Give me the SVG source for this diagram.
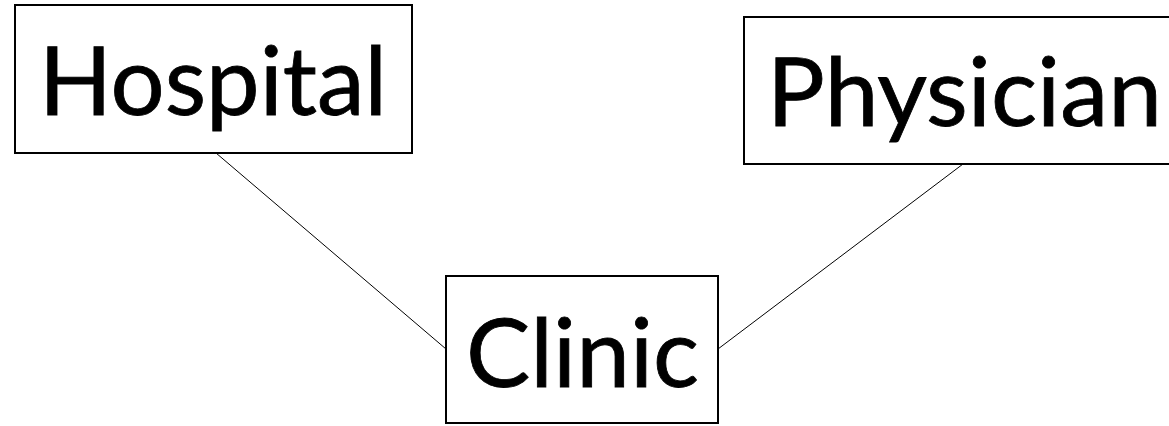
<svg xmlns="http://www.w3.org/2000/svg" width="1169" height="426" viewBox="0 0 1169 426">
  <style>
    .box { fill: #ffffff; stroke: #000000; stroke-width: 2; }
    .label { font-family: Lato, "Open Sans", "Liberation Sans", sans-serif; font-size: 95px; fill: #000000; stroke: #000000; stroke-width: 0.8; }
    .link { stroke: #000000; stroke-width: 1; fill: none; }
  </style>
  <rect width="1169" height="426" fill="#ffffff"/>
  <!-- plain straight links between the boxes -->
  <g id="connectors">
    <line class="link" x1="216" y1="153" x2="446" y2="349"/>
    <line class="link" x1="963" y1="164" x2="718" y2="349"/>
  </g>
  <g id="hospital">
    <rect class="box" x="15" y="5" width="397" height="148"/>
    <text class="label" x="39" y="115" textLength="348" lengthAdjust="spacingAndGlyphs">Hospital</text>
  </g>
  <g id="physician">
    <rect class="box" x="744" y="17" width="440" height="147"/>
    <text class="label" x="767" y="126" textLength="395" lengthAdjust="spacingAndGlyphs">Physician</text>
  </g>
  <g id="clinic">
    <rect class="box" x="446" y="276" width="272" height="147"/>
    <text class="label" x="466" y="387" textLength="233" lengthAdjust="spacingAndGlyphs">Clinic</text>
  </g>
</svg>
